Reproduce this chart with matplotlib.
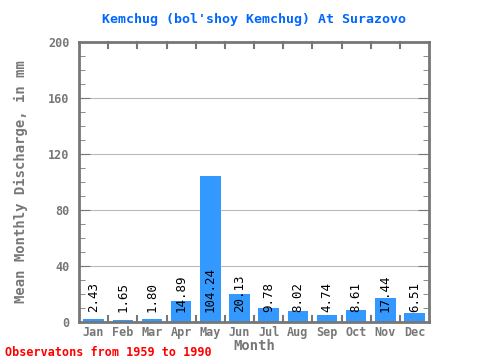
import matplotlib as mpl
import matplotlib.pyplot as plt
import numpy as np

months = ["Jan", "Feb", "Mar", "Apr", "May", "Jun",
          "Jul", "Aug", "Sep", "Oct", "Nov", "Dec"]
discharge = [2.43, 1.65, 1.80, 14.89, 104.24, 20.13,
             9.78, 8.02, 4.74, 8.61, 17.44, 6.51]
y_ticks = [0, 40, 80, 120, 160, 200]

mpl.rcParams.update({"font.family": "DejaVu Sans Mono"})
AXIS_C = "#777777"
BAR_C = "#3399ff"

fig = plt.figure(figsize=(4.8, 3.6), dpi=100)
ax = fig.add_axes([0.1646, 0.1056, 0.7294, 0.7778])

x = np.arange(len(months))
ax.bar(x, discharge, width=0.7, color=BAR_C, zorder=2)
for xi, v in zip(x, discharge):
    ax.text(xi, 7, f"{v:.2f}", rotation=90, ha="center", va="bottom",
            fontsize=9, color="black", zorder=3)

ax.set_xlim(-0.5, 11.5)
ax.set_ylim(0, 200)
ax.set_yticks(y_ticks)
ax.set_yticks(np.arange(0, 201, 10), minor=True)
ax.set_xticks(x)
ax.set_xticklabels(months)
ax.grid(axis="y", color="#bbbbbb", lw=0.8, zorder=1)

for s in ax.spines.values():
    s.set_color(AXIS_C)
    s.set_linewidth(2)
ax.tick_params(axis="both", which="both", colors=AXIS_C, labelcolor=AXIS_C,
               labelsize=8.5)
ax.tick_params(axis="x", length=0, pad=3)
ax.tick_params(axis="y", which="major", length=8, direction="in", right=True,
               pad=7)
ax.tick_params(axis="y", which="minor", length=4, direction="in", right=True)
for lbl in ax.get_xticklabels() + ax.get_yticklabels():
    lbl.set_fontweight("semibold")

# month boundary ticks on top and bottom spines
for b in np.arange(0.5, 11.5, 1.0):
    ax.plot([b, b], [200, 196], color=AXIS_C, lw=1.5, clip_on=False, zorder=4)
    ax.plot([b, b], [0, 4], color=AXIS_C, lw=1.5, clip_on=False, zorder=4)

ax.set_xlabel("Month", color=AXIS_C, fontsize=10, fontweight="bold", labelpad=0)
ax.set_ylabel("Mean Monthly Discharge, in mm", color=AXIS_C, fontsize=10,
              fontweight="bold", labelpad=14)
ax.set_title("Kemchug (bol'shoy Kemchug) At Surazovo", color="#0066ff",
             fontsize=9.5, fontweight="bold", pad=14)
fig.text(0.01, 0.01, "Observatons from 1959 to 1990", color="red",
         fontsize=8.5, fontweight="bold")

fig.savefig("out.png")
